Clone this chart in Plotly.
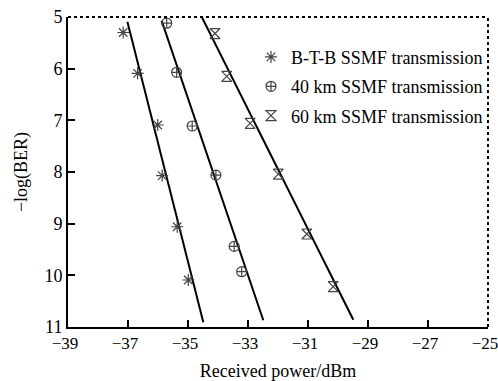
import plotly.graph_objects as go

# Measured data points
btb_x = [-37.16, -36.68, -36.01, -35.86, -35.36, -34.99]
btb_y = [5.30, 6.09, 7.09, 8.07, 9.06, 10.09]
km40_x = [-35.71, -35.38, -34.86, -34.07, -33.46, -33.21]
km40_y = [5.12, 6.07, 7.11, 8.06, 9.44, 9.93]
km60_x = [-34.10, -33.71, -32.93, -31.99, -31.04, -30.16]
km60_y = [5.32, 6.15, 7.06, 8.04, 9.20, 10.22]

# Fitted line endpoints
btb_fit_x = [-37.02, -34.49]
btb_fit_y = [5.09, 10.91]
km40_fit_x = [-35.88, -32.49]
km40_fit_y = [5.07, 10.87]
km60_fit_x = [-34.54, -29.49]
km60_fit_y = [5.00, 10.86]

names = ["B-T-B SSMF transmission", "40 km SSMF transmission", "60 km SSMF transmission"]
x_ticks = [-39, -37, -35, -33, -31, -29, -27, -25]
y_ticks = [5, 6, 7, 8, 9, 10, 11]

FONT = "Liberation Serif"
mcol = "#444444"

fig = go.Figure()
for fx, fy in [(btb_fit_x, btb_fit_y), (km40_fit_x, km40_fit_y), (km60_fit_x, km60_fit_y)]:
    fig.add_trace(go.Scatter(x=fx, y=fy, mode="lines", line=dict(color="black", width=2),
                             showlegend=False, hoverinfo="skip"))

sym = ["asterisk-open", "circle-cross-open", "hourglass-open"]
for i, ((xs, ys), nm, s) in enumerate(zip([(btb_x, btb_y), (km40_x, km40_y), (km60_x, km60_y)], names, sym)):
    fig.add_trace(go.Scatter(x=xs, y=ys, mode="markers", name=nm, legendgroup="g%d" % i,
                             marker=dict(symbol=s, size=10, color=mcol, line=dict(width=1.2, color=mcol))))

fig.update_layout(
    width=498, height=381,
    margin=dict(l=68, r=10, t=17, b=54),
    plot_bgcolor="white", paper_bgcolor="white",
    font=dict(family=FONT, size=18, color="black"),
    showlegend=True,
    legend=dict(x=1.0, y=0.93, xanchor="right", yanchor="top", bgcolor="rgba(0,0,0,0)",
                font=dict(family=FONT, size=18), itemwidth=30, tracegroupgap=3),
)
fig.update_xaxes(range=[-39, -25], tickvals=x_ticks, ticktext=["\u2212" + str(abs(v)) for v in x_ticks],
                 ticks="inside", ticklen=7, tickwidth=1.5, tickcolor="black", ticklabeloverflow="allow",
                 ticklabelshift=-3, automargin=False,
                 showline=True, linewidth=2, linecolor="black", showgrid=False, zeroline=False,
                 title=dict(text="Received power/dBm", font=dict(family=FONT, size=18), standoff=16),
                 tickfont=dict(family=FONT, size=17))
fig.update_yaxes(range=[11, 5], tickvals=y_ticks, ticks="inside", ticklen=7, tickwidth=1.5, tickcolor="black",
                 automargin=False, ticklabeloverflow="allow",
                 showline=True, linewidth=2, linecolor="black", showgrid=False, zeroline=False,
                 title=dict(text="\u2212log(BER)", font=dict(family=FONT, size=18), standoff=12),
                 tickfont=dict(family=FONT, size=18))
# top and right borders (thin dotted)
fig.add_shape(type="line", xref="paper", yref="paper", x0=0, x1=1, y0=1, y1=1,
              line=dict(color="black", width=2, dash="dot"))
fig.add_shape(type="line", xref="paper", yref="paper", x0=1, x1=1, y0=0, y1=1,
              line=dict(color="black", width=2, dash="dot"))

fig.write_html("out.html", config={"displayModeBar": False},
               post_script="document.body.style.margin='0';document.body.style.overflow='hidden';")
